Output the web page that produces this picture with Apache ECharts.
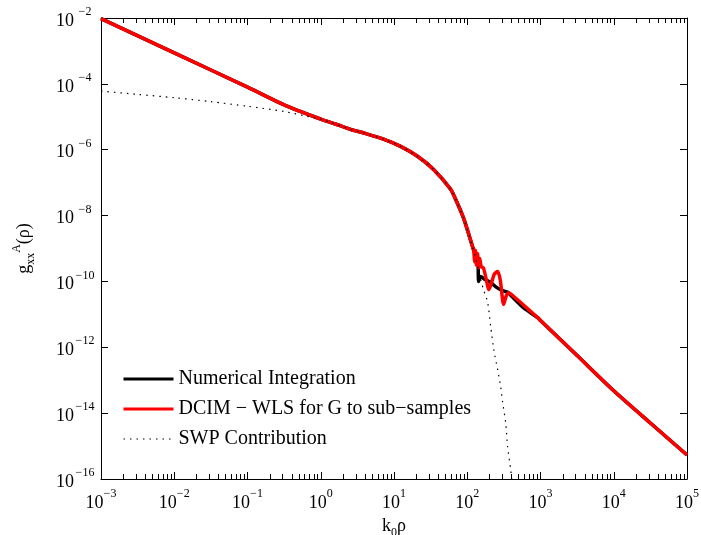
<!DOCTYPE html>
<html><head><meta charset="utf-8">
<script src="https://cdn.jsdelivr.net/npm/echarts@6/dist/echarts.min.js"></script>
<style>html,body{margin:0;padding:0;background:#fff}#c{width:701px;height:535px}</style>
</head><body><div id="c"></div>
<script>
// ---- data (k0*rho, g_xx^A) ----
var mainK = [1e-3, 1e-2, 0.1, 0.316, 0.525, 1, 1.585, 2.54, 3.98, 7.18, 12.3, 20.9, 34.7, 59.3, 70.8, 89.1, 118, 139];
var mainG = [9.55e-3, 8.71e-4, 7.94e-5, 2.30e-5, 1.46e-5, 8.51e-6, 6.03e-6, 4.17e-6, 3.16e-6, 2.09e-6, 1.26e-6, 6.31e-7, 2.51e-7, 6.31e-8, 2.82e-8, 8.32e-9, 1.15e-9, 3.72e-10];

var numTailK = [141, 143, 151, 178, 209, 251, 302, 356, 447, 590, 916, 1000, 3162, 1e4, 31623, 1e5];
var numTailG = [2.51e-10, 1.0e-10, 1.41e-10, 1.12e-10, 9.33e-11, 6.61e-11, 5.25e-11, 4.68e-11, 2.82e-11, 1.58e-11, 7.94e-12, 6.46e-12, 5.62e-13, 4.79e-14, 5.01e-15, 5.37e-16];

var dcimTailK = [123, 126, 129, 133, 138, 143, 148, 155, 167, 184, 196, 214, 234, 260, 282, 314, 339, 368, 427, 537, 708, 916, 1000, 3162, 1e4, 31623, 1e5];
var dcimTailG = [7.94e-10, 3.98e-10, 8.91e-10, 3.16e-10, 7.08e-10, 2.63e-10, 5.01e-10, 2.82e-10, 2.51e-10, 1.0e-10, 5.62e-11, 8.91e-11, 1.66e-10, 2.0e-10, 1.12e-10, 2.0e-11, 3.55e-11, 4.57e-11, 3.55e-11, 2.29e-11, 1.32e-11, 7.94e-12, 6.46e-12, 5.62e-13, 4.79e-14, 5.01e-15, 5.37e-16];

var swpK = [1e-3, 0.00316, 0.01, 0.0316, 0.1, 0.316, 0.631, 1, 1.585, 2.54, 3.98, 7.18, 12.3, 20.9, 34.7, 59.3, 70.8, 89.1, 118, 139, 155, 167, 190, 209, 230, 260, 286, 305, 335, 356, 379, 392, 407];
var swpG = [6.03e-5, 4.79e-5, 3.80e-5, 2.88e-5, 2.09e-5, 1.45e-5, 1.05e-5, 8.51e-6, 6.03e-6, 4.17e-6, 3.16e-6, 2.09e-6, 1.26e-6, 6.31e-7, 2.51e-7, 6.31e-8, 2.82e-8, 8.32e-9, 1.15e-9, 2.82e-10, 1.0e-10, 5.62e-11, 2.29e-11, 4.27e-12, 8.51e-13, 2.09e-13, 6.31e-14, 2.04e-14, 5.13e-15, 9.33e-16, 3.31e-16, 1.91e-16, 8.9e-17];

// minor tick values of the log x axis (2..9 in each decade)
var minorX = [0.002, 0.003, 0.004, 0.005, 0.006, 0.007, 0.008, 0.009,
  0.02, 0.03, 0.04, 0.05, 0.06, 0.07, 0.08, 0.09,
  0.2, 0.3, 0.4, 0.5, 0.6, 0.7, 0.8, 0.9,
  2, 3, 4, 5, 6, 7, 8, 9,
  20, 30, 40, 50, 60, 70, 80, 90,
  200, 300, 400, 500, 600, 700, 800, 900,
  2000, 3000, 4000, 5000, 6000, 7000, 8000, 9000,
  20000, 30000, 40000, 50000, 60000, 70000, 80000, 90000];

var seriesNames = ['Numerical Integration', 'DCIM \u2212 WLS for G to sub\u2212samples', 'SWP Contribution'];
var xMin = 1e-3, xMax = 1e5, yMin = 1e-16, yMax = 1e-2;

function pairs(a, b) { return a.map(function (v, i) { return [v, b[i]]; }); }
var numData = pairs(mainK, mainG).concat(pairs(numTailK, numTailG));
var dcimData = pairs(mainK.slice(0, 17), mainG.slice(0, 17)).concat(pairs(dcimTailK, dcimTailG));
var swpData = pairs(swpK, swpG);

var FONT = "'Liberation Serif', 'Times New Roman', serif";
function powLabel(v) {
  var e = Math.round(Math.log10(v));
  return '{b|10}{e|' + (e < 0 ? '\u2212' + (-e) : e) + '}';
}
var richX = {
  b: { fontFamily: FONT, fontSize: 18, color: '#000', verticalAlign: 'bottom', lineHeight: 24 },
  e: { fontFamily: FONT, fontSize: 12, color: '#000', verticalAlign: 'top', lineHeight: 24 }
};
var richY = {
  b: { fontFamily: FONT, fontSize: 18, color: '#000', verticalAlign: 'bottom', lineHeight: 24 },
  e: { fontFamily: FONT, fontSize: 12, color: '#000', verticalAlign: 'top', lineHeight: 24, width: 22, align: 'left' }
};
var tickCommon = { show: true, inside: true, length: 7, lineStyle: { color: '#000' } };
var lineCommon = { show: true, lineStyle: { color: '#000', width: 1 } };

var chart = echarts.init(document.getElementById('c'), null, { renderer: 'canvas' });
chart.setOption({
  animation: false,
  backgroundColor: '#fff',
  grid: { left: 101, right: 14, top: 18, bottom: 56, containLabel: false, outerBoundsMode: 'none' },
  xAxis: [{
    type: 'log', min: xMin, max: xMax, interval: 1, splitNumber: 8, position: 'bottom',
    axisLine: lineCommon, axisTick: tickCommon, splitLine: { show: false },
    axisLabel: { formatter: powLabel, rich: richX, margin: 9 },
    name: '{n|k}{s|0}{n|\u03c1}', nameLocation: 'middle', nameGap: 32,
    nameTextStyle: { rich: {
      n: { fontFamily: FONT, fontSize: 18, color: '#000', verticalAlign: 'top', lineHeight: 22 },
      s: { fontFamily: FONT, fontSize: 12, color: '#000', verticalAlign: 'bottom', lineHeight: 22 } } }
  }, {
    type: 'log', min: xMin, max: xMax, interval: 1, splitNumber: 8, position: 'top',
    axisLine: lineCommon, axisTick: tickCommon, axisLabel: { show: false }, splitLine: { show: false }
  }],
  yAxis: [{
    type: 'log', min: yMin, max: yMax, interval: 2, splitNumber: 7, position: 'left',
    axisLine: lineCommon, axisTick: tickCommon, splitLine: { show: false },
    axisLabel: { formatter: powLabel, rich: richY, margin: 5 },
    name: '{n|g}{s|xx}{p|A}{n|(\u03c1)}', nameLocation: 'middle', nameGap: 64, nameRotate: 90,
    nameTextStyle: { rich: {
      n: { fontFamily: FONT, fontSize: 18, color: '#000', verticalAlign: 'middle', lineHeight: 26 },
      s: { fontFamily: FONT, fontSize: 12, color: '#000', verticalAlign: 'bottom', lineHeight: 26 },
      p: { fontFamily: FONT, fontSize: 12, color: '#000', verticalAlign: 'top', lineHeight: 26 } } }
  }, {
    type: 'log', min: yMin, max: yMax, interval: 2, splitNumber: 7, position: 'right',
    axisLine: lineCommon, axisTick: tickCommon, axisLabel: { show: false }, splitLine: { show: false }
  }],
  legend: {
    data: [
      { name: seriesNames[0], lineStyle: { width: 3 } },
      { name: seriesNames[1], lineStyle: { width: 3 } },
      { name: seriesNames[2], lineStyle: { width: 1.2 } }
    ],
    orient: 'vertical', left: 117, top: 363,
    itemWidth: 50, itemHeight: 4, itemGap: 8,
    textStyle: { fontFamily: FONT, fontSize: 20, color: '#000', lineHeight: 22, padding: [0, 0, 0, 0] },
    itemStyle: { opacity: 0, borderWidth: 0 }
  },
  series: [{
    name: seriesNames[0], type: 'line', data: numData, showSymbol: false, symbol: 'none', smooth: 0.25,
    lineStyle: { color: '#000', width: 3.5 }, itemStyle: { color: '#000' }, clip: true, z: 2
  }, {
    name: seriesNames[1], type: 'line', data: dcimData, showSymbol: false, symbol: 'none', smooth: 0.25,
    lineStyle: { color: '#ff0000', width: 3.5 }, itemStyle: { color: '#ff0000' }, clip: true, z: 3
  }, {
    name: seriesNames[2], type: 'line', data: swpData, showSymbol: false, symbol: 'none', smooth: 0.25,
    lineStyle: { color: '#000', width: 1.2, type: [1.5, 5] }, itemStyle: { color: '#000' }, clip: true, z: 4
  }]
});

// minor x ticks, positioned through the chart's own log scale and grid rectangle
var ticks = [];
var yb = NaN, yt = NaN;
try {
  var rect = chart.getModel().getComponent('grid', 0).coordinateSystem.getRect();
  yb = rect.y + rect.height; yt = rect.y;
} catch (e) { /* ignore */ }
if (!isFinite(yb) || !isFinite(yt)) {
  yb = chart.convertToPixel({ yAxisIndex: 0 }, yMin);
  yt = chart.convertToPixel({ yAxisIndex: 0 }, yMax);
}
minorX.forEach(function (v) {
  var xb = chart.convertToPixel({ xAxisIndex: 0 }, v);
  if (!isFinite(xb) || !isFinite(yb) || !isFinite(yt)) return;
  var x = Math.round(xb) + 0.5;
  ticks.push({ type: 'line', silent: true, z: 100, shape: { x1: x, y1: yb, x2: x, y2: yb - 5 }, style: { stroke: '#000', lineWidth: 1 } });
  ticks.push({ type: 'line', silent: true, z: 100, shape: { x1: x, y1: yt, x2: x, y2: yt + 5 }, style: { stroke: '#000', lineWidth: 1 } });
});
chart.setOption({ graphic: { elements: ticks } });
</script>
</body></html>
